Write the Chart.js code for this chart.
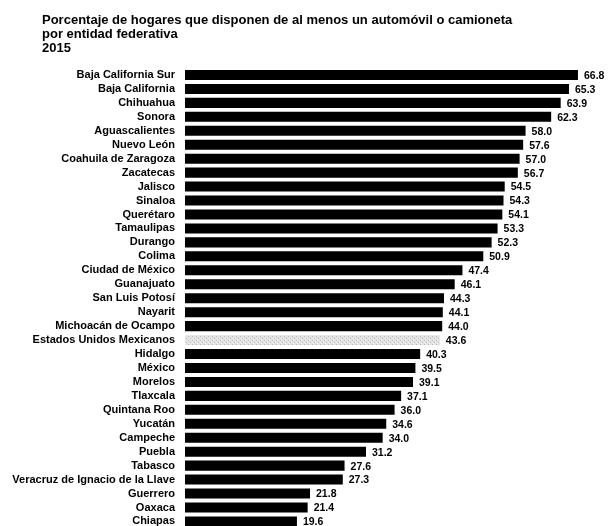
<!DOCTYPE html>
<html>
<head>
<meta charset="utf-8">
<script src="https://cdn.jsdelivr.net/npm/chart.js@4"></script>
<style>
  html, body { margin: 0; padding: 0; background: #fff; overflow: hidden; }
  canvas { display: block; }
</style>
</head>
<body>
<canvas id="myChart" width="608" height="545"></canvas>
<script>
const titulo = [
  'Porcentaje de hogares que disponen de al menos un automóvil o camioneta',
  'por entidad federativa',
  '2015'
];

const entidades = [
  'Baja California Sur', 'Baja California', 'Chihuahua', 'Sonora', 'Aguascalientes',
  'Nuevo León', 'Coahuila de Zaragoza', 'Zacatecas', 'Jalisco', 'Sinaloa',
  'Querétaro', 'Tamaulipas', 'Durango', 'Colima', 'Ciudad de México',
  'Guanajuato', 'San Luis Potosí', 'Nayarit', 'Michoacán de Ocampo',
  'Estados Unidos Mexicanos', 'Hidalgo', 'México', 'Morelos', 'Tlaxcala',
  'Quintana Roo', 'Yucatán', 'Campeche', 'Puebla', 'Tabasco',
  'Veracruz de Ignacio de la Llave', 'Guerrero', 'Oaxaca', 'Chiapas'
];

const porcentajes = [
  66.8, 65.3, 63.9, 62.3, 58.0,
  57.6, 57.0, 56.7, 54.5, 54.3,
  54.1, 53.3, 52.3, 50.9, 47.4,
  46.1, 44.3, 44.1, 44.0,
  43.6, 40.3, 39.5, 39.1, 37.1,
  36.0, 34.6, 34.0, 31.2, 27.6,
  27.3, 21.8, 21.4, 19.6
];

const nacional = 'Estados Unidos Mexicanos';

// trama gris clara para el total nacional
function trama() {
  const c = document.createElement('canvas');
  c.width = 4; c.height = 4;
  const g = c.getContext('2d');
  g.fillStyle = '#e4e4e4';
  g.fillRect(0, 0, 4, 4);
  g.fillStyle = '#b8b8b8';
  g.fillRect(0, 0, 1, 1);
  g.fillRect(2, 2, 1, 1);
  g.fillStyle = '#f4f4f4';
  g.fillRect(1, 3, 1, 1);
  return g.createPattern(c, 'repeat');
}

const ctx = document.getElementById('myChart').getContext('2d');
const gris = trama();
const colores = entidades.map(e => e === nacional ? gris : '#000000');

const fuente = 'Liberation Sans, Arial, sans-serif';

const tituloPlugin = {
  id: 'tituloPlugin',
  beforeDraw(chart) {
    const c = chart.ctx;
    c.save();
    c.fillStyle = '#000';
    c.font = 'bold 13px ' + fuente;
    c.textBaseline = 'alphabetic';
    titulo.forEach((t, i) => c.fillText(t, 42, 24 + i * 14));
    c.restore();
  }
};

const valoresPlugin = {
  id: 'valoresPlugin',
  afterDatasetsDraw(chart) {
    const c = chart.ctx;
    const meta = chart.getDatasetMeta(0);
    c.save();
    c.fillStyle = '#000';
    c.font = 'bold 10.5px ' + fuente;
    c.textBaseline = 'middle';
    meta.data.forEach((bar, i) => {
      c.fillText(porcentajes[i].toFixed(1), bar.x + 6, bar.y + 1);
    });
    c.restore();
  }
};

new Chart(ctx, {
  type: 'bar',
  data: {
    labels: entidades,
    datasets: [{
      data: porcentajes,
      backgroundColor: colores,
      borderWidth: 0,
      barPercentage: 0.72,
      categoryPercentage: 1
    }]
  },
  options: {
    indexAxis: 'y',
    responsive: false,
    animation: false,
    layout: { padding: { top: 68, right: 11, bottom: 2, left: 0 } },
    plugins: {
      legend: { display: false },
      tooltip: { enabled: false }
    },
    scales: {
      x: {
        display: false,
        min: 0.8,
        max: 70
      },
      y: {
        afterFit(axis) { axis.width = 185; },
        grid: { display: false, drawTicks: false },
        border: { display: false },
        ticks: {
          color: '#000',
          padding: 10,
          autoSkip: false,
          font: { family: fuente, size: 11, weight: 'bold' }
        }
      }
    }
  },
  plugins: [tituloPlugin, valoresPlugin]
});
</script>
</body>
</html>
